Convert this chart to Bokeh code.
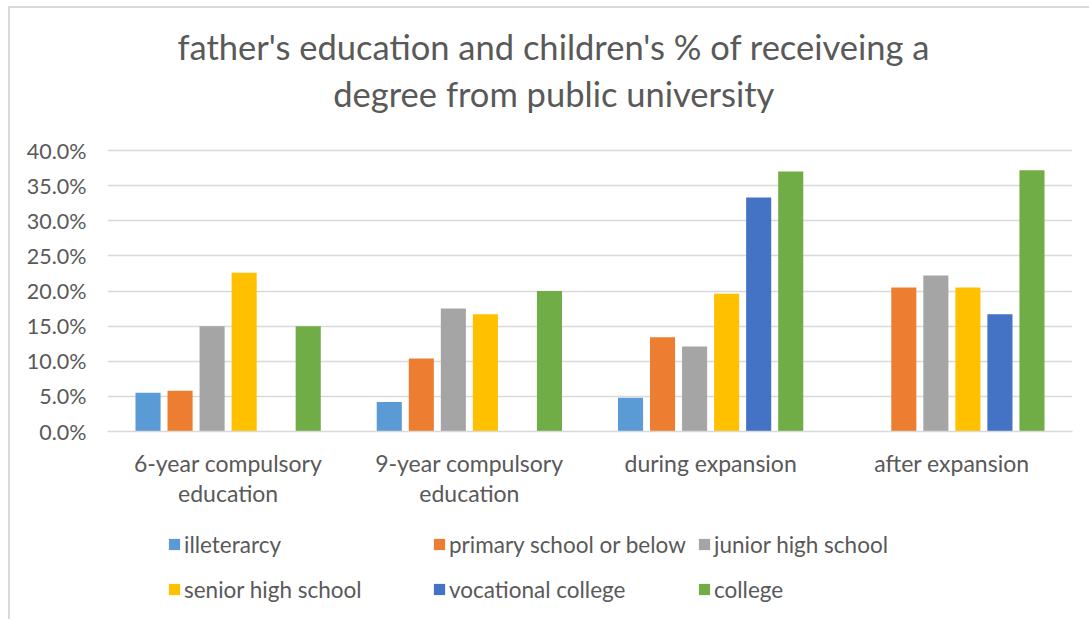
from bokeh.plotting import figure
from bokeh.layouts import column
from bokeh.models import (ColumnDataSource, FactorRange, Range1d, NumeralTickFormatter,
                          Legend, LegendItem, Label, FixedTicker)
from bokeh.transform import dodge
from bokeh.embed import file_html
from bokeh.resources import INLINE

NaN = float("nan")

categories = ["6-year compulsory\neducation", "9-year compulsory\neducation",
              "during expansion", "after expansion"]
series_names = ["illeterarcy", "primary school or below", "junior high school",
                "senior high school", "vocational college", "college"]
illeterarcy = [0.055, 0.042, 0.048, NaN]
primary_school_or_below = [0.058, 0.104, 0.134, 0.205]
junior_high_school = [0.150, 0.175, 0.121, 0.222]
senior_high_school = [0.226, 0.167, 0.196, 0.205]
vocational_college = [NaN, NaN, 0.333, 0.167]
college = [0.150, 0.200, 0.370, 0.372]
y_ticks = [0.0, 0.05, 0.10, 0.15, 0.20, 0.25, 0.30, 0.35, 0.40]
title_lines = ["father's education and children's % of receiveing a",
               "degree from public university"]

colors = ["#5b9bd5", "#ed7d31", "#a5a5a5", "#ffc000", "#4472c4", "#70ad47"]
keys = ["s0", "s1", "s2", "s3", "s4", "s5"]
series_values = [illeterarcy, primary_school_or_below, junior_high_school,
                 senior_high_school, vocational_college, college]

data = {"cat": categories}
for k, v in zip(keys, series_values):
    data[k] = v
src = ColumnDataSource(data)

FONT = "Lato"
TXT = "#595959"
GRID = "#d9d9d9"

# layout in pixels (canvas): plot frame spans from canvas top to y=423,
# the 40% gridline sits at y=142, so the top part of the frame holds the title
FRAME_H = 423
TOP40 = 142
y_max = max(y_ticks)
y_end = y_max * FRAME_H / (FRAME_H - TOP40)
px_per_unit = FRAME_H / y_end

xr = FactorRange(*categories, range_padding=0)

# ---------------- main chart ----------------
p = figure(width=1079, height=512, x_range=xr,
           y_range=Range1d(0, y_end), output_backend="svg", toolbar_location=None,
           title=None, min_border_left=97, min_border_right=17,
           min_border_top=0, min_border_bottom=89)
p.outline_line_color = None
p.background_fill_color = "white"
p.border_fill_color = "white"

step = 0.1328
width = 0.104
for i, (k, c) in enumerate(zip(keys, colors)):
    off = (i - 2.5) * step
    p.vbar(x=dodge("cat", off, range=xr), top=k, width=width, source=src,
           fill_color=c, line_color=None)

p.yaxis.ticker = FixedTicker(ticks=y_ticks)
p.yaxis.formatter = NumeralTickFormatter(format="0.0%")
p.yaxis.axis_line_color = None
p.yaxis.major_tick_line_color = None
p.yaxis.minor_tick_line_color = None
p.yaxis.major_tick_out = 0
p.yaxis.major_label_standoff = 21
p.yaxis.major_label_text_font = FONT
p.yaxis.major_label_text_font_size = "21.5px"
p.yaxis.major_label_text_color = TXT

p.xaxis.axis_line_color = GRID
p.xaxis.axis_line_width = 1.5
p.xaxis.major_tick_line_color = None
p.xaxis.major_tick_out = 0
p.xaxis.major_label_standoff = 17
p.xaxis.major_label_text_font = FONT
p.xaxis.major_label_text_font_size = "23px"
p.xaxis.major_label_text_color = TXT
p.xaxis.major_label_text_line_height = 1.08

p.xgrid.grid_line_color = None
p.ygrid.grid_line_color = GRID
p.ygrid.grid_line_width = 1.5
p.ygrid.ticker = FixedTicker(ticks=y_ticks)

# title: two centred lines in the space above the 40% gridline
title_cx = 1.85          # horizontal centre, in category units
title_px = [104, 57]     # distance of each line's centre above the 40% gridline
for line, dpx in zip(title_lines, title_px):
    p.add_layout(Label(x=title_cx, y=y_max + dpx / px_per_unit, text=line,
                       text_align="center", text_baseline="middle", text_font=FONT,
                       text_font_size="34.5px", text_color=TXT))

# ---------------- legend strip ----------------
lg = figure(width=1079, height=99, x_range=xr, y_range=Range1d(10, 11),
            output_backend="svg", toolbar_location=None, title=None,
            x_axis_location=None, y_axis_location=None,
            min_border_left=97, min_border_right=17, min_border_top=0, min_border_bottom=0)
lg.grid.visible = False
lg.outline_line_color = None
lg.border_fill_color = "white"
lg.background_fill_color = "white"

items = []
for i, (k, name, c) in enumerate(zip(keys, series_names, colors)):
    off = (i - 2.5) * step
    r = lg.vbar(x=dodge("cat", off, range=xr), top=k, width=width, source=src,
                fill_color=c, line_color=None)
    items.append(LegendItem(label=name, renderers=[r]))

legend = Legend(items=items, orientation="horizontal", ncols=3, location=(60, 12),
                glyph_width=14, glyph_height=14, label_height=36, label_width=239,
                label_standoff=3, spacing=9, padding=0, margin=0,
                label_text_font=FONT, label_text_font_size="22.5px", label_text_color=TXT,
                border_line_color=None, background_fill_alpha=0)
lg.add_layout(legend)

layout = column(p, lg, spacing=0, margin=(6, 0, 0, 8),
                styles={"border-top": "2px solid #d9d9d9", "border-left": "2px solid #d9d9d9"})

open("out.html", "w").write(file_html(layout, INLINE))
